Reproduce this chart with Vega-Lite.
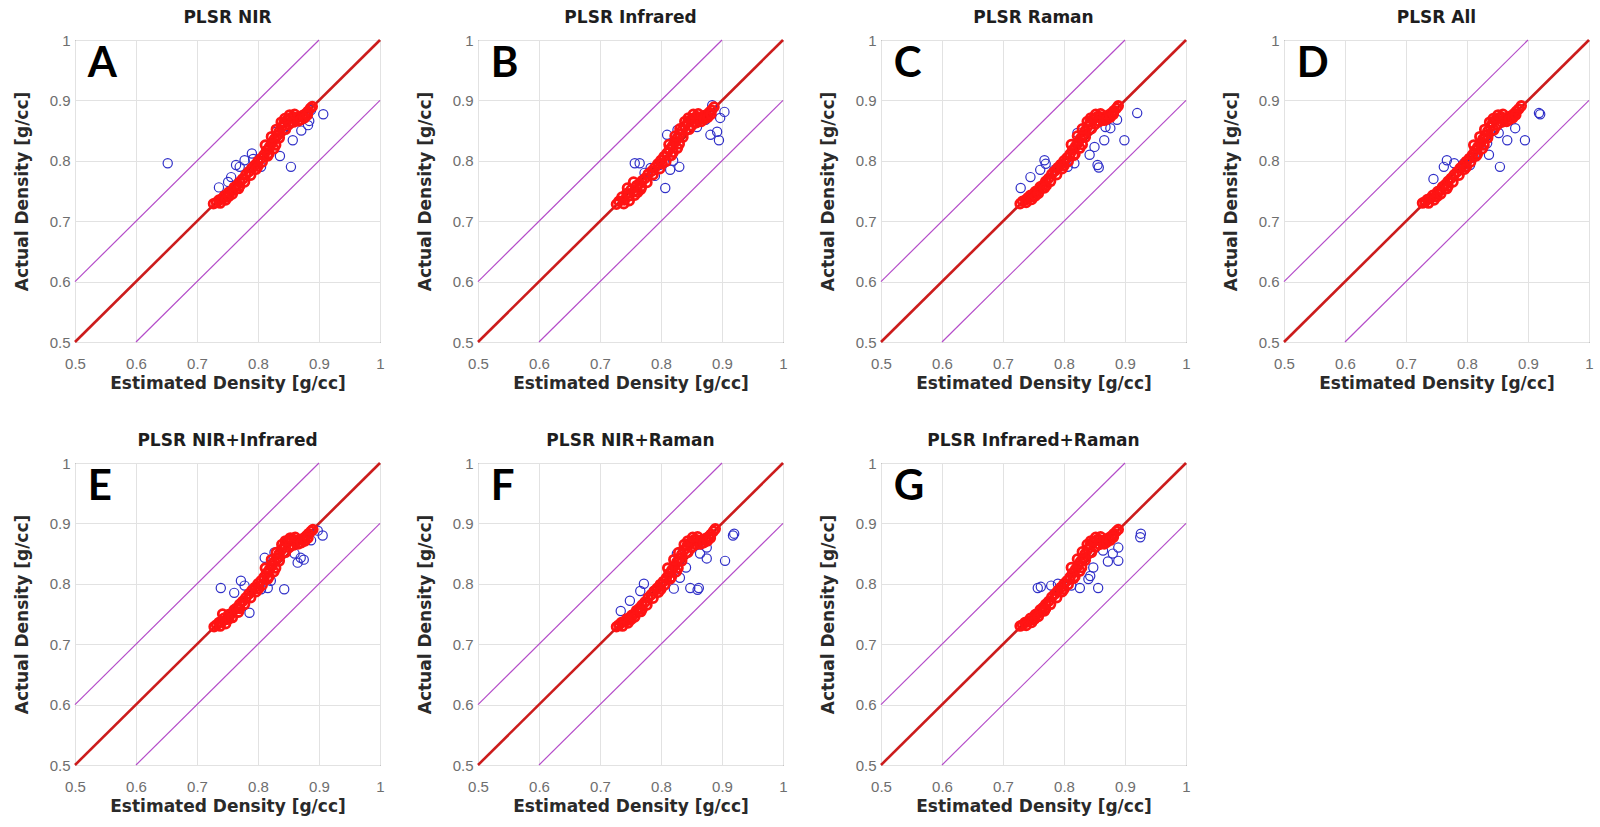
{
"$schema":"https://vega.github.io/schema/vega-lite/v6.json",
"background":"white",
"padding":{"left":12,"top":8,"right":5,"bottom":5},
"data":{"values":[
{"p":"A","s":"t"},{"p":"B","s":"t"},{"p":"C","s":"t"},{"p":"D","s":"t"},{"p":"E","s":"t"},{"p":"F","s":"t"},{"p":"G","s":"t"},
{"p":"A","s":"l","k":"d","x":0.5,"y":0.5},{"p":"A","s":"l","k":"d","x":1,"y":1},{"p":"A","s":"l","k":"u","x":0.5,"y":0.6},{"p":"A","s":"l","k":"u","x":0.9,"y":1},{"p":"A","s":"l","k":"w","x":0.6,"y":0.5},{"p":"A","s":"l","k":"w","x":1,"y":0.9},
{"p":"B","s":"l","k":"d","x":0.5,"y":0.5},{"p":"B","s":"l","k":"d","x":1,"y":1},{"p":"B","s":"l","k":"u","x":0.5,"y":0.6},{"p":"B","s":"l","k":"u","x":0.9,"y":1},{"p":"B","s":"l","k":"w","x":0.6,"y":0.5},{"p":"B","s":"l","k":"w","x":1,"y":0.9},
{"p":"C","s":"l","k":"d","x":0.5,"y":0.5},{"p":"C","s":"l","k":"d","x":1,"y":1},{"p":"C","s":"l","k":"u","x":0.5,"y":0.6},{"p":"C","s":"l","k":"u","x":0.9,"y":1},{"p":"C","s":"l","k":"w","x":0.6,"y":0.5},{"p":"C","s":"l","k":"w","x":1,"y":0.9},
{"p":"D","s":"l","k":"d","x":0.5,"y":0.5},{"p":"D","s":"l","k":"d","x":1,"y":1},{"p":"D","s":"l","k":"u","x":0.5,"y":0.6},{"p":"D","s":"l","k":"u","x":0.9,"y":1},{"p":"D","s":"l","k":"w","x":0.6,"y":0.5},{"p":"D","s":"l","k":"w","x":1,"y":0.9},
{"p":"E","s":"l","k":"d","x":0.5,"y":0.5},{"p":"E","s":"l","k":"d","x":1,"y":1},{"p":"E","s":"l","k":"u","x":0.5,"y":0.6},{"p":"E","s":"l","k":"u","x":0.9,"y":1},{"p":"E","s":"l","k":"w","x":0.6,"y":0.5},{"p":"E","s":"l","k":"w","x":1,"y":0.9},
{"p":"F","s":"l","k":"d","x":0.5,"y":0.5},{"p":"F","s":"l","k":"d","x":1,"y":1},{"p":"F","s":"l","k":"u","x":0.5,"y":0.6},{"p":"F","s":"l","k":"u","x":0.9,"y":1},{"p":"F","s":"l","k":"w","x":0.6,"y":0.5},{"p":"F","s":"l","k":"w","x":1,"y":0.9},
{"p":"G","s":"l","k":"d","x":0.5,"y":0.5},{"p":"G","s":"l","k":"d","x":1,"y":1},{"p":"G","s":"l","k":"u","x":0.5,"y":0.6},{"p":"G","s":"l","k":"u","x":0.9,"y":1},{"p":"G","s":"l","k":"w","x":0.6,"y":0.5},{"p":"G","s":"l","k":"w","x":1,"y":0.9},

{"p":"A","s":"b","x":0.652,"y":0.796},{"p":"A","s":"b","x":0.854,"y":0.790},{"p":"A","s":"b","x":0.907,"y":0.877},{"p":"A","s":"b","x":0.836,"y":0.808},{"p":"A","s":"b","x":0.857,"y":0.834},{"p":"A","s":"b","x":0.830,"y":0.848},{"p":"A","s":"b","x":0.805,"y":0.790},{"p":"A","s":"b","x":0.790,"y":0.812},{"p":"A","s":"b","x":0.764,"y":0.793},{"p":"A","s":"b","x":0.778,"y":0.801},{"p":"A","s":"b","x":0.792,"y":0.803},{"p":"A","s":"b","x":0.871,"y":0.850},{"p":"A","s":"b","x":0.884,"y":0.866},{"p":"A","s":"b","x":0.751,"y":0.765},{"p":"A","s":"b","x":0.736,"y":0.756},{"p":"A","s":"b","x":0.822,"y":0.829},{"p":"A","s":"b","x":0.844,"y":0.857},{"p":"A","s":"b","x":0.887,"y":0.884},{"p":"A","s":"b","x":0.756,"y":0.773},{"p":"A","s":"b","x":0.882,"y":0.859},{"p":"A","s":"b","x":0.770,"y":0.790},
{"p":"B","s":"b","x":0.807,"y":0.755},{"p":"B","s":"b","x":0.757,"y":0.796},{"p":"B","s":"b","x":0.765,"y":0.796},{"p":"B","s":"b","x":0.810,"y":0.843},{"p":"B","s":"b","x":0.830,"y":0.790},{"p":"B","s":"b","x":0.815,"y":0.785},{"p":"B","s":"b","x":0.881,"y":0.843},{"p":"B","s":"b","x":0.895,"y":0.834},{"p":"B","s":"b","x":0.892,"y":0.848},{"p":"B","s":"b","x":0.904,"y":0.881},{"p":"B","s":"b","x":0.897,"y":0.871},{"p":"B","s":"b","x":0.884,"y":0.892},{"p":"B","s":"b","x":0.783,"y":0.788},{"p":"B","s":"b","x":0.797,"y":0.793},{"p":"B","s":"b","x":0.827,"y":0.851},{"p":"B","s":"b","x":0.859,"y":0.856},{"p":"B","s":"b","x":0.873,"y":0.868},{"p":"B","s":"b","x":0.773,"y":0.780},{"p":"B","s":"b","x":0.820,"y":0.800},{"p":"B","s":"b","x":0.790,"y":0.775},
{"p":"C","s":"b","x":0.920,"y":0.879},{"p":"C","s":"b","x":0.855,"y":0.793},{"p":"C","s":"b","x":0.857,"y":0.789},{"p":"C","s":"b","x":0.842,"y":0.810},{"p":"C","s":"b","x":0.899,"y":0.834},{"p":"C","s":"b","x":0.866,"y":0.834},{"p":"C","s":"b","x":0.876,"y":0.854},{"p":"C","s":"b","x":0.822,"y":0.846},{"p":"C","s":"b","x":0.817,"y":0.796},{"p":"C","s":"b","x":0.806,"y":0.790},{"p":"C","s":"b","x":0.768,"y":0.801},{"p":"C","s":"b","x":0.761,"y":0.785},{"p":"C","s":"b","x":0.745,"y":0.773},{"p":"C","s":"b","x":0.729,"y":0.755},{"p":"C","s":"b","x":0.784,"y":0.785},{"p":"C","s":"b","x":0.868,"y":0.856},{"p":"C","s":"b","x":0.887,"y":0.868},{"p":"C","s":"b","x":0.850,"y":0.823},{"p":"C","s":"b","x":0.770,"y":0.795},
{"p":"D","s":"b","x":0.918,"y":0.879},{"p":"D","s":"b","x":0.920,"y":0.877},{"p":"D","s":"b","x":0.895,"y":0.834},{"p":"D","s":"b","x":0.854,"y":0.790},{"p":"D","s":"b","x":0.836,"y":0.810},{"p":"D","s":"b","x":0.866,"y":0.834},{"p":"D","s":"b","x":0.879,"y":0.854},{"p":"D","s":"b","x":0.805,"y":0.793},{"p":"D","s":"b","x":0.795,"y":0.796},{"p":"D","s":"b","x":0.762,"y":0.790},{"p":"D","s":"b","x":0.767,"y":0.801},{"p":"D","s":"b","x":0.779,"y":0.796},{"p":"D","s":"b","x":0.852,"y":0.846},{"p":"D","s":"b","x":0.870,"y":0.868},{"p":"D","s":"b","x":0.811,"y":0.806},{"p":"D","s":"b","x":0.833,"y":0.829},{"p":"D","s":"b","x":0.745,"y":0.770},
{"p":"E","s":"b","x":0.739,"y":0.793},{"p":"E","s":"b","x":0.786,"y":0.752},{"p":"E","s":"b","x":0.843,"y":0.791},{"p":"E","s":"b","x":0.811,"y":0.843},{"p":"E","s":"b","x":0.906,"y":0.880},{"p":"E","s":"b","x":0.865,"y":0.835},{"p":"E","s":"b","x":0.870,"y":0.843},{"p":"E","s":"b","x":0.816,"y":0.793},{"p":"E","s":"b","x":0.805,"y":0.791},{"p":"E","s":"b","x":0.778,"y":0.797},{"p":"E","s":"b","x":0.761,"y":0.785},{"p":"E","s":"b","x":0.772,"y":0.805},{"p":"E","s":"b","x":0.821,"y":0.805},{"p":"E","s":"b","x":0.827,"y":0.852},{"p":"E","s":"b","x":0.849,"y":0.872},{"p":"E","s":"b","x":0.887,"y":0.872},{"p":"E","s":"b","x":0.898,"y":0.888},{"p":"E","s":"b","x":0.860,"y":0.850},{"p":"E","s":"b","x":0.875,"y":0.840},
{"p":"F","s":"b","x":0.920,"y":0.883},{"p":"F","s":"b","x":0.905,"y":0.838},{"p":"F","s":"b","x":0.862,"y":0.793},{"p":"F","s":"b","x":0.848,"y":0.793},{"p":"F","s":"b","x":0.831,"y":0.810},{"p":"F","s":"b","x":0.821,"y":0.792},{"p":"F","s":"b","x":0.875,"y":0.842},{"p":"F","s":"b","x":0.864,"y":0.850},{"p":"F","s":"b","x":0.826,"y":0.850},{"p":"F","s":"b","x":0.772,"y":0.800},{"p":"F","s":"b","x":0.766,"y":0.788},{"p":"F","s":"b","x":0.749,"y":0.772},{"p":"F","s":"b","x":0.734,"y":0.755},{"p":"F","s":"b","x":0.788,"y":0.788},{"p":"F","s":"b","x":0.875,"y":0.860},{"p":"F","s":"b","x":0.841,"y":0.827},{"p":"F","s":"b","x":0.918,"y":0.880},{"p":"F","s":"b","x":0.860,"y":0.790},
{"p":"G","s":"b","x":0.926,"y":0.883},{"p":"G","s":"b","x":0.925,"y":0.877},{"p":"G","s":"b","x":0.889,"y":0.838},{"p":"G","s":"b","x":0.872,"y":0.837},{"p":"G","s":"b","x":0.880,"y":0.850},{"p":"G","s":"b","x":0.856,"y":0.793},{"p":"G","s":"b","x":0.843,"y":0.813},{"p":"G","s":"b","x":0.826,"y":0.793},{"p":"G","s":"b","x":0.812,"y":0.797},{"p":"G","s":"b","x":0.757,"y":0.793},{"p":"G","s":"b","x":0.762,"y":0.795},{"p":"G","s":"b","x":0.779,"y":0.797},{"p":"G","s":"b","x":0.790,"y":0.800},{"p":"G","s":"b","x":0.864,"y":0.855},{"p":"G","s":"b","x":0.848,"y":0.827},{"p":"G","s":"b","x":0.889,"y":0.860},{"p":"G","s":"b","x":0.840,"y":0.808},

{"p":"A","s":"r","x":0.727,"y":0.729},{"p":"A","s":"r","x":0.732,"y":0.731},{"p":"A","s":"r","x":0.736,"y":0.735},{"p":"A","s":"r","x":0.741,"y":0.737},{"p":"A","s":"r","x":0.745,"y":0.742},{"p":"A","s":"r","x":0.749,"y":0.740},{"p":"A","s":"r","x":0.752,"y":0.748},{"p":"A","s":"r","x":0.757,"y":0.750},{"p":"A","s":"r","x":0.761,"y":0.756},{"p":"A","s":"r","x":0.765,"y":0.759},{"p":"A","s":"r","x":0.770,"y":0.765},{"p":"A","s":"r","x":0.775,"y":0.770},{"p":"A","s":"r","x":0.780,"y":0.777},{"p":"A","s":"r","x":0.785,"y":0.782},{"p":"A","s":"r","x":0.790,"y":0.788},{"p":"A","s":"r","x":0.795,"y":0.793},{"p":"A","s":"r","x":0.800,"y":0.799},{"p":"A","s":"r","x":0.805,"y":0.804},{"p":"A","s":"r","x":0.810,"y":0.810},{"p":"A","s":"r","x":0.814,"y":0.817},{"p":"A","s":"r","x":0.819,"y":0.823},{"p":"A","s":"r","x":0.823,"y":0.829},{"p":"A","s":"r","x":0.827,"y":0.836},{"p":"A","s":"r","x":0.831,"y":0.842},{"p":"A","s":"r","x":0.835,"y":0.849},{"p":"A","s":"r","x":0.839,"y":0.856},{"p":"A","s":"r","x":0.843,"y":0.863},{"p":"A","s":"r","x":0.848,"y":0.868},{"p":"A","s":"r","x":0.853,"y":0.871},{"p":"A","s":"r","x":0.858,"y":0.872},{"p":"A","s":"r","x":0.863,"y":0.871},{"p":"A","s":"r","x":0.868,"y":0.873},{"p":"A","s":"r","x":0.873,"y":0.875},{"p":"A","s":"r","x":0.878,"y":0.878},{"p":"A","s":"r","x":0.882,"y":0.882},{"p":"A","s":"r","x":0.886,"y":0.887},{"p":"A","s":"r","x":0.889,"y":0.890},{"p":"A","s":"r","x":0.850,"y":0.860},{"p":"A","s":"r","x":0.858,"y":0.864},{"p":"A","s":"r","x":0.866,"y":0.866},{"p":"A","s":"r","x":0.818,"y":0.812},{"p":"A","s":"r","x":0.800,"y":0.791},{"p":"A","s":"r","x":0.770,"y":0.758},{"p":"A","s":"r","x":0.752,"y":0.741},{"p":"A","s":"r","x":0.829,"y":0.826},{"p":"A","s":"r","x":0.845,"y":0.852},
{"p":"A","s":"r","x":0.738,"y":0.730},{"p":"A","s":"r","x":0.747,"y":0.735},{"p":"A","s":"r","x":0.758,"y":0.745},{"p":"A","s":"r","x":0.768,"y":0.754},{"p":"A","s":"r","x":0.778,"y":0.765},{"p":"A","s":"r","x":0.788,"y":0.776},{"p":"A","s":"r","x":0.797,"y":0.786},{"p":"A","s":"r","x":0.807,"y":0.798},{"p":"A","s":"r","x":0.816,"y":0.808},{"p":"A","s":"r","x":0.826,"y":0.820},{"p":"A","s":"r","x":0.835,"y":0.838},{"p":"A","s":"r","x":0.838,"y":0.864},{"p":"A","s":"r","x":0.844,"y":0.870},{"p":"A","s":"r","x":0.852,"y":0.876},{"p":"A","s":"r","x":0.860,"y":0.877},{"p":"A","s":"r","x":0.870,"y":0.868},{"p":"A","s":"r","x":0.876,"y":0.871},{"p":"A","s":"r","x":0.881,"y":0.876},{"p":"A","s":"r","x":0.812,"y":0.826},{"p":"A","s":"r","x":0.822,"y":0.840},{"p":"A","s":"r","x":0.830,"y":0.852},

{"p":"B","s":"r","x":0.727,"y":0.728},{"p":"B","s":"r","x":0.731,"y":0.733},{"p":"B","s":"r","x":0.736,"y":0.740},{"p":"B","s":"r","x":0.740,"y":0.735},{"p":"B","s":"r","x":0.744,"y":0.746},{"p":"B","s":"r","x":0.748,"y":0.742},{"p":"B","s":"r","x":0.751,"y":0.752},{"p":"B","s":"r","x":0.756,"y":0.750},{"p":"B","s":"r","x":0.760,"y":0.759},{"p":"B","s":"r","x":0.765,"y":0.762},{"p":"B","s":"r","x":0.769,"y":0.767},{"p":"B","s":"r","x":0.774,"y":0.771},{"p":"B","s":"r","x":0.779,"y":0.778},{"p":"B","s":"r","x":0.785,"y":0.783},{"p":"B","s":"r","x":0.790,"y":0.789},{"p":"B","s":"r","x":0.795,"y":0.795},{"p":"B","s":"r","x":0.800,"y":0.801},{"p":"B","s":"r","x":0.805,"y":0.807},{"p":"B","s":"r","x":0.810,"y":0.813},{"p":"B","s":"r","x":0.814,"y":0.819},{"p":"B","s":"r","x":0.819,"y":0.825},{"p":"B","s":"r","x":0.823,"y":0.831},{"p":"B","s":"r","x":0.827,"y":0.838},{"p":"B","s":"r","x":0.831,"y":0.844},{"p":"B","s":"r","x":0.835,"y":0.851},{"p":"B","s":"r","x":0.839,"y":0.857},{"p":"B","s":"r","x":0.844,"y":0.864},{"p":"B","s":"r","x":0.849,"y":0.868},{"p":"B","s":"r","x":0.854,"y":0.871},{"p":"B","s":"r","x":0.859,"y":0.873},{"p":"B","s":"r","x":0.864,"y":0.871},{"p":"B","s":"r","x":0.869,"y":0.874},{"p":"B","s":"r","x":0.874,"y":0.876},{"p":"B","s":"r","x":0.879,"y":0.880},{"p":"B","s":"r","x":0.883,"y":0.884},{"p":"B","s":"r","x":0.887,"y":0.889},{"p":"B","s":"r","x":0.850,"y":0.858},{"p":"B","s":"r","x":0.858,"y":0.863},{"p":"B","s":"r","x":0.866,"y":0.865},{"p":"B","s":"r","x":0.820,"y":0.814},{"p":"B","s":"r","x":0.802,"y":0.795},{"p":"B","s":"r","x":0.768,"y":0.757},{"p":"B","s":"r","x":0.745,"y":0.755},{"p":"B","s":"r","x":0.755,"y":0.765},{"p":"B","s":"r","x":0.762,"y":0.748},{"p":"B","s":"r","x":0.830,"y":0.828},{"p":"B","s":"r","x":0.846,"y":0.852},
{"p":"B","s":"r","x":0.739,"y":0.729},{"p":"B","s":"r","x":0.748,"y":0.734},{"p":"B","s":"r","x":0.757,"y":0.743},{"p":"B","s":"r","x":0.767,"y":0.753},{"p":"B","s":"r","x":0.777,"y":0.764},{"p":"B","s":"r","x":0.787,"y":0.777},{"p":"B","s":"r","x":0.798,"y":0.787},{"p":"B","s":"r","x":0.808,"y":0.799},{"p":"B","s":"r","x":0.817,"y":0.809},{"p":"B","s":"r","x":0.827,"y":0.821},{"p":"B","s":"r","x":0.836,"y":0.839},{"p":"B","s":"r","x":0.839,"y":0.865},{"p":"B","s":"r","x":0.845,"y":0.871},{"p":"B","s":"r","x":0.853,"y":0.877},{"p":"B","s":"r","x":0.861,"y":0.878},{"p":"B","s":"r","x":0.871,"y":0.869},{"p":"B","s":"r","x":0.877,"y":0.872},{"p":"B","s":"r","x":0.882,"y":0.877},{"p":"B","s":"r","x":0.813,"y":0.827},{"p":"B","s":"r","x":0.823,"y":0.841},{"p":"B","s":"r","x":0.831,"y":0.853},

{"p":"C","s":"r","x":0.728,"y":0.729},{"p":"C","s":"r","x":0.732,"y":0.733},{"p":"C","s":"r","x":0.737,"y":0.735},{"p":"C","s":"r","x":0.741,"y":0.739},{"p":"C","s":"r","x":0.745,"y":0.743},{"p":"C","s":"r","x":0.749,"y":0.741},{"p":"C","s":"r","x":0.753,"y":0.749},{"p":"C","s":"r","x":0.757,"y":0.751},{"p":"C","s":"r","x":0.761,"y":0.757},{"p":"C","s":"r","x":0.766,"y":0.760},{"p":"C","s":"r","x":0.770,"y":0.766},{"p":"C","s":"r","x":0.775,"y":0.771},{"p":"C","s":"r","x":0.780,"y":0.778},{"p":"C","s":"r","x":0.785,"y":0.783},{"p":"C","s":"r","x":0.790,"y":0.789},{"p":"C","s":"r","x":0.795,"y":0.794},{"p":"C","s":"r","x":0.800,"y":0.800},{"p":"C","s":"r","x":0.805,"y":0.805},{"p":"C","s":"r","x":0.810,"y":0.811},{"p":"C","s":"r","x":0.814,"y":0.818},{"p":"C","s":"r","x":0.819,"y":0.824},{"p":"C","s":"r","x":0.823,"y":0.830},{"p":"C","s":"r","x":0.827,"y":0.837},{"p":"C","s":"r","x":0.831,"y":0.843},{"p":"C","s":"r","x":0.835,"y":0.850},{"p":"C","s":"r","x":0.839,"y":0.857},{"p":"C","s":"r","x":0.843,"y":0.864},{"p":"C","s":"r","x":0.848,"y":0.869},{"p":"C","s":"r","x":0.853,"y":0.872},{"p":"C","s":"r","x":0.858,"y":0.873},{"p":"C","s":"r","x":0.863,"y":0.872},{"p":"C","s":"r","x":0.868,"y":0.873},{"p":"C","s":"r","x":0.873,"y":0.876},{"p":"C","s":"r","x":0.878,"y":0.879},{"p":"C","s":"r","x":0.882,"y":0.883},{"p":"C","s":"r","x":0.886,"y":0.887},{"p":"C","s":"r","x":0.889,"y":0.891},{"p":"C","s":"r","x":0.851,"y":0.861},{"p":"C","s":"r","x":0.858,"y":0.865},{"p":"C","s":"r","x":0.866,"y":0.867},{"p":"C","s":"r","x":0.818,"y":0.811},{"p":"C","s":"r","x":0.800,"y":0.792},{"p":"C","s":"r","x":0.771,"y":0.759},{"p":"C","s":"r","x":0.753,"y":0.742},{"p":"C","s":"r","x":0.830,"y":0.827},{"p":"C","s":"r","x":0.845,"y":0.853},
{"p":"C","s":"r","x":0.738,"y":0.731},{"p":"C","s":"r","x":0.747,"y":0.736},{"p":"C","s":"r","x":0.758,"y":0.746},{"p":"C","s":"r","x":0.768,"y":0.755},{"p":"C","s":"r","x":0.778,"y":0.766},{"p":"C","s":"r","x":0.788,"y":0.777},{"p":"C","s":"r","x":0.797,"y":0.787},{"p":"C","s":"r","x":0.807,"y":0.799},{"p":"C","s":"r","x":0.816,"y":0.809},{"p":"C","s":"r","x":0.826,"y":0.821},{"p":"C","s":"r","x":0.835,"y":0.839},{"p":"C","s":"r","x":0.838,"y":0.865},{"p":"C","s":"r","x":0.844,"y":0.871},{"p":"C","s":"r","x":0.852,"y":0.877},{"p":"C","s":"r","x":0.860,"y":0.878},{"p":"C","s":"r","x":0.870,"y":0.869},{"p":"C","s":"r","x":0.876,"y":0.872},{"p":"C","s":"r","x":0.881,"y":0.877},{"p":"C","s":"r","x":0.812,"y":0.827},{"p":"C","s":"r","x":0.822,"y":0.841},{"p":"C","s":"r","x":0.830,"y":0.853},

{"p":"D","s":"r","x":0.727,"y":0.730},{"p":"D","s":"r","x":0.731,"y":0.732},{"p":"D","s":"r","x":0.735,"y":0.736},{"p":"D","s":"r","x":0.740,"y":0.738},{"p":"D","s":"r","x":0.744,"y":0.743},{"p":"D","s":"r","x":0.748,"y":0.741},{"p":"D","s":"r","x":0.752,"y":0.749},{"p":"D","s":"r","x":0.756,"y":0.751},{"p":"D","s":"r","x":0.760,"y":0.757},{"p":"D","s":"r","x":0.765,"y":0.761},{"p":"D","s":"r","x":0.769,"y":0.766},{"p":"D","s":"r","x":0.774,"y":0.771},{"p":"D","s":"r","x":0.779,"y":0.777},{"p":"D","s":"r","x":0.784,"y":0.782},{"p":"D","s":"r","x":0.789,"y":0.788},{"p":"D","s":"r","x":0.794,"y":0.793},{"p":"D","s":"r","x":0.799,"y":0.799},{"p":"D","s":"r","x":0.804,"y":0.804},{"p":"D","s":"r","x":0.809,"y":0.810},{"p":"D","s":"r","x":0.813,"y":0.817},{"p":"D","s":"r","x":0.818,"y":0.823},{"p":"D","s":"r","x":0.822,"y":0.829},{"p":"D","s":"r","x":0.826,"y":0.836},{"p":"D","s":"r","x":0.830,"y":0.842},{"p":"D","s":"r","x":0.834,"y":0.849},{"p":"D","s":"r","x":0.838,"y":0.856},{"p":"D","s":"r","x":0.842,"y":0.863},{"p":"D","s":"r","x":0.847,"y":0.868},{"p":"D","s":"r","x":0.852,"y":0.871},{"p":"D","s":"r","x":0.857,"y":0.872},{"p":"D","s":"r","x":0.862,"y":0.870},{"p":"D","s":"r","x":0.867,"y":0.872},{"p":"D","s":"r","x":0.872,"y":0.874},{"p":"D","s":"r","x":0.877,"y":0.878},{"p":"D","s":"r","x":0.881,"y":0.882},{"p":"D","s":"r","x":0.885,"y":0.886},{"p":"D","s":"r","x":0.889,"y":0.891},{"p":"D","s":"r","x":0.849,"y":0.859},{"p":"D","s":"r","x":0.857,"y":0.864},{"p":"D","s":"r","x":0.865,"y":0.865},{"p":"D","s":"r","x":0.817,"y":0.811},{"p":"D","s":"r","x":0.799,"y":0.790},{"p":"D","s":"r","x":0.769,"y":0.758},{"p":"D","s":"r","x":0.751,"y":0.741},{"p":"D","s":"r","x":0.828,"y":0.826},{"p":"D","s":"r","x":0.844,"y":0.851},
{"p":"D","s":"r","x":0.737,"y":0.730},{"p":"D","s":"r","x":0.746,"y":0.735},{"p":"D","s":"r","x":0.757,"y":0.745},{"p":"D","s":"r","x":0.767,"y":0.754},{"p":"D","s":"r","x":0.777,"y":0.765},{"p":"D","s":"r","x":0.787,"y":0.776},{"p":"D","s":"r","x":0.796,"y":0.786},{"p":"D","s":"r","x":0.806,"y":0.798},{"p":"D","s":"r","x":0.815,"y":0.808},{"p":"D","s":"r","x":0.825,"y":0.820},{"p":"D","s":"r","x":0.834,"y":0.838},{"p":"D","s":"r","x":0.837,"y":0.864},{"p":"D","s":"r","x":0.843,"y":0.870},{"p":"D","s":"r","x":0.851,"y":0.876},{"p":"D","s":"r","x":0.859,"y":0.877},{"p":"D","s":"r","x":0.869,"y":0.868},{"p":"D","s":"r","x":0.875,"y":0.871},{"p":"D","s":"r","x":0.880,"y":0.876},{"p":"D","s":"r","x":0.811,"y":0.826},{"p":"D","s":"r","x":0.821,"y":0.840},{"p":"D","s":"r","x":0.829,"y":0.852},

{"p":"E","s":"r","x":0.728,"y":0.729},{"p":"E","s":"r","x":0.732,"y":0.732},{"p":"E","s":"r","x":0.736,"y":0.736},{"p":"E","s":"r","x":0.740,"y":0.737},{"p":"E","s":"r","x":0.744,"y":0.743},{"p":"E","s":"r","x":0.748,"y":0.741},{"p":"E","s":"r","x":0.752,"y":0.749},{"p":"E","s":"r","x":0.757,"y":0.751},{"p":"E","s":"r","x":0.761,"y":0.757},{"p":"E","s":"r","x":0.765,"y":0.760},{"p":"E","s":"r","x":0.770,"y":0.766},{"p":"E","s":"r","x":0.775,"y":0.771},{"p":"E","s":"r","x":0.780,"y":0.777},{"p":"E","s":"r","x":0.785,"y":0.783},{"p":"E","s":"r","x":0.790,"y":0.789},{"p":"E","s":"r","x":0.795,"y":0.794},{"p":"E","s":"r","x":0.800,"y":0.800},{"p":"E","s":"r","x":0.805,"y":0.805},{"p":"E","s":"r","x":0.810,"y":0.811},{"p":"E","s":"r","x":0.814,"y":0.818},{"p":"E","s":"r","x":0.819,"y":0.824},{"p":"E","s":"r","x":0.823,"y":0.830},{"p":"E","s":"r","x":0.827,"y":0.837},{"p":"E","s":"r","x":0.831,"y":0.843},{"p":"E","s":"r","x":0.835,"y":0.850},{"p":"E","s":"r","x":0.839,"y":0.857},{"p":"E","s":"r","x":0.844,"y":0.864},{"p":"E","s":"r","x":0.849,"y":0.869},{"p":"E","s":"r","x":0.854,"y":0.872},{"p":"E","s":"r","x":0.859,"y":0.873},{"p":"E","s":"r","x":0.864,"y":0.871},{"p":"E","s":"r","x":0.869,"y":0.873},{"p":"E","s":"r","x":0.874,"y":0.875},{"p":"E","s":"r","x":0.879,"y":0.879},{"p":"E","s":"r","x":0.883,"y":0.883},{"p":"E","s":"r","x":0.887,"y":0.887},{"p":"E","s":"r","x":0.890,"y":0.890},{"p":"E","s":"r","x":0.851,"y":0.860},{"p":"E","s":"r","x":0.858,"y":0.864},{"p":"E","s":"r","x":0.866,"y":0.866},{"p":"E","s":"r","x":0.818,"y":0.812},{"p":"E","s":"r","x":0.801,"y":0.792},{"p":"E","s":"r","x":0.770,"y":0.759},{"p":"E","s":"r","x":0.752,"y":0.742},{"p":"E","s":"r","x":0.829,"y":0.826},{"p":"E","s":"r","x":0.845,"y":0.852},{"p":"E","s":"r","x":0.742,"y":0.750},
{"p":"E","s":"r","x":0.738,"y":0.730},{"p":"E","s":"r","x":0.747,"y":0.734},{"p":"E","s":"r","x":0.758,"y":0.744},{"p":"E","s":"r","x":0.768,"y":0.753},{"p":"E","s":"r","x":0.778,"y":0.766},{"p":"E","s":"r","x":0.788,"y":0.777},{"p":"E","s":"r","x":0.797,"y":0.787},{"p":"E","s":"r","x":0.807,"y":0.798},{"p":"E","s":"r","x":0.816,"y":0.808},{"p":"E","s":"r","x":0.826,"y":0.820},{"p":"E","s":"r","x":0.835,"y":0.838},{"p":"E","s":"r","x":0.839,"y":0.865},{"p":"E","s":"r","x":0.845,"y":0.871},{"p":"E","s":"r","x":0.853,"y":0.876},{"p":"E","s":"r","x":0.861,"y":0.877},{"p":"E","s":"r","x":0.871,"y":0.868},{"p":"E","s":"r","x":0.877,"y":0.871},{"p":"E","s":"r","x":0.882,"y":0.876},{"p":"E","s":"r","x":0.812,"y":0.826},{"p":"E","s":"r","x":0.822,"y":0.840},{"p":"E","s":"r","x":0.830,"y":0.852},

{"p":"F","s":"r","x":0.727,"y":0.729},{"p":"F","s":"r","x":0.731,"y":0.732},{"p":"F","s":"r","x":0.735,"y":0.736},{"p":"F","s":"r","x":0.740,"y":0.737},{"p":"F","s":"r","x":0.744,"y":0.742},{"p":"F","s":"r","x":0.748,"y":0.740},{"p":"F","s":"r","x":0.752,"y":0.748},{"p":"F","s":"r","x":0.756,"y":0.750},{"p":"F","s":"r","x":0.760,"y":0.756},{"p":"F","s":"r","x":0.765,"y":0.760},{"p":"F","s":"r","x":0.769,"y":0.765},{"p":"F","s":"r","x":0.774,"y":0.770},{"p":"F","s":"r","x":0.779,"y":0.777},{"p":"F","s":"r","x":0.784,"y":0.782},{"p":"F","s":"r","x":0.789,"y":0.788},{"p":"F","s":"r","x":0.794,"y":0.793},{"p":"F","s":"r","x":0.799,"y":0.799},{"p":"F","s":"r","x":0.804,"y":0.804},{"p":"F","s":"r","x":0.809,"y":0.810},{"p":"F","s":"r","x":0.813,"y":0.817},{"p":"F","s":"r","x":0.818,"y":0.823},{"p":"F","s":"r","x":0.822,"y":0.829},{"p":"F","s":"r","x":0.826,"y":0.836},{"p":"F","s":"r","x":0.830,"y":0.842},{"p":"F","s":"r","x":0.834,"y":0.849},{"p":"F","s":"r","x":0.838,"y":0.856},{"p":"F","s":"r","x":0.843,"y":0.863},{"p":"F","s":"r","x":0.848,"y":0.868},{"p":"F","s":"r","x":0.853,"y":0.872},{"p":"F","s":"r","x":0.858,"y":0.873},{"p":"F","s":"r","x":0.863,"y":0.871},{"p":"F","s":"r","x":0.868,"y":0.873},{"p":"F","s":"r","x":0.873,"y":0.875},{"p":"F","s":"r","x":0.878,"y":0.878},{"p":"F","s":"r","x":0.882,"y":0.882},{"p":"F","s":"r","x":0.886,"y":0.887},{"p":"F","s":"r","x":0.889,"y":0.891},{"p":"F","s":"r","x":0.850,"y":0.860},{"p":"F","s":"r","x":0.857,"y":0.865},{"p":"F","s":"r","x":0.865,"y":0.866},{"p":"F","s":"r","x":0.817,"y":0.811},{"p":"F","s":"r","x":0.800,"y":0.791},{"p":"F","s":"r","x":0.769,"y":0.758},{"p":"F","s":"r","x":0.751,"y":0.741},{"p":"F","s":"r","x":0.828,"y":0.826},{"p":"F","s":"r","x":0.844,"y":0.852},
{"p":"F","s":"r","x":0.737,"y":0.730},{"p":"F","s":"r","x":0.746,"y":0.735},{"p":"F","s":"r","x":0.757,"y":0.745},{"p":"F","s":"r","x":0.767,"y":0.754},{"p":"F","s":"r","x":0.777,"y":0.765},{"p":"F","s":"r","x":0.787,"y":0.776},{"p":"F","s":"r","x":0.796,"y":0.786},{"p":"F","s":"r","x":0.806,"y":0.798},{"p":"F","s":"r","x":0.815,"y":0.808},{"p":"F","s":"r","x":0.825,"y":0.820},{"p":"F","s":"r","x":0.834,"y":0.838},{"p":"F","s":"r","x":0.838,"y":0.865},{"p":"F","s":"r","x":0.844,"y":0.871},{"p":"F","s":"r","x":0.852,"y":0.877},{"p":"F","s":"r","x":0.860,"y":0.878},{"p":"F","s":"r","x":0.870,"y":0.868},{"p":"F","s":"r","x":0.876,"y":0.871},{"p":"F","s":"r","x":0.881,"y":0.876},{"p":"F","s":"r","x":0.811,"y":0.826},{"p":"F","s":"r","x":0.821,"y":0.840},{"p":"F","s":"r","x":0.829,"y":0.852},

{"p":"G","s":"r","x":0.728,"y":0.730},{"p":"G","s":"r","x":0.732,"y":0.732},{"p":"G","s":"r","x":0.736,"y":0.736},{"p":"G","s":"r","x":0.741,"y":0.738},{"p":"G","s":"r","x":0.745,"y":0.743},{"p":"G","s":"r","x":0.749,"y":0.741},{"p":"G","s":"r","x":0.753,"y":0.749},{"p":"G","s":"r","x":0.757,"y":0.751},{"p":"G","s":"r","x":0.761,"y":0.757},{"p":"G","s":"r","x":0.766,"y":0.761},{"p":"G","s":"r","x":0.770,"y":0.766},{"p":"G","s":"r","x":0.775,"y":0.771},{"p":"G","s":"r","x":0.780,"y":0.778},{"p":"G","s":"r","x":0.785,"y":0.783},{"p":"G","s":"r","x":0.790,"y":0.789},{"p":"G","s":"r","x":0.795,"y":0.794},{"p":"G","s":"r","x":0.800,"y":0.800},{"p":"G","s":"r","x":0.805,"y":0.805},{"p":"G","s":"r","x":0.810,"y":0.811},{"p":"G","s":"r","x":0.814,"y":0.818},{"p":"G","s":"r","x":0.819,"y":0.824},{"p":"G","s":"r","x":0.823,"y":0.830},{"p":"G","s":"r","x":0.827,"y":0.837},{"p":"G","s":"r","x":0.831,"y":0.843},{"p":"G","s":"r","x":0.835,"y":0.850},{"p":"G","s":"r","x":0.839,"y":0.857},{"p":"G","s":"r","x":0.843,"y":0.864},{"p":"G","s":"r","x":0.848,"y":0.869},{"p":"G","s":"r","x":0.853,"y":0.872},{"p":"G","s":"r","x":0.858,"y":0.873},{"p":"G","s":"r","x":0.863,"y":0.871},{"p":"G","s":"r","x":0.868,"y":0.873},{"p":"G","s":"r","x":0.873,"y":0.876},{"p":"G","s":"r","x":0.878,"y":0.879},{"p":"G","s":"r","x":0.882,"y":0.883},{"p":"G","s":"r","x":0.886,"y":0.887},{"p":"G","s":"r","x":0.889,"y":0.890},{"p":"G","s":"r","x":0.851,"y":0.861},{"p":"G","s":"r","x":0.858,"y":0.865},{"p":"G","s":"r","x":0.866,"y":0.866},{"p":"G","s":"r","x":0.818,"y":0.812},{"p":"G","s":"r","x":0.800,"y":0.791},{"p":"G","s":"r","x":0.770,"y":0.759},{"p":"G","s":"r","x":0.752,"y":0.742},{"p":"G","s":"r","x":0.829,"y":0.827},{"p":"G","s":"r","x":0.845,"y":0.852},
{"p":"G","s":"r","x":0.738,"y":0.731},{"p":"G","s":"r","x":0.747,"y":0.736},{"p":"G","s":"r","x":0.758,"y":0.746},{"p":"G","s":"r","x":0.768,"y":0.755},{"p":"G","s":"r","x":0.778,"y":0.766},{"p":"G","s":"r","x":0.788,"y":0.777},{"p":"G","s":"r","x":0.797,"y":0.787},{"p":"G","s":"r","x":0.807,"y":0.799},{"p":"G","s":"r","x":0.816,"y":0.809},{"p":"G","s":"r","x":0.826,"y":0.821},{"p":"G","s":"r","x":0.835,"y":0.839},{"p":"G","s":"r","x":0.838,"y":0.865},{"p":"G","s":"r","x":0.844,"y":0.871},{"p":"G","s":"r","x":0.852,"y":0.877},{"p":"G","s":"r","x":0.860,"y":0.878},{"p":"G","s":"r","x":0.870,"y":0.869},{"p":"G","s":"r","x":0.876,"y":0.872},{"p":"G","s":"r","x":0.881,"y":0.877},{"p":"G","s":"r","x":0.812,"y":0.827},{"p":"G","s":"r","x":0.822,"y":0.841},{"p":"G","s":"r","x":0.830,"y":0.853}
]},
"columns":4,
"bounds":"flush",
"spacing":{"row":121,"column":98},
"facet":{"field":"p","type":"nominal","title":null,
  "header":{"title":null,"labelExpr":"datum.value=='A'?'PLSR NIR':datum.value=='B'?'PLSR Infrared':datum.value=='C'?'PLSR Raman':datum.value=='D'?'PLSR All':datum.value=='E'?'PLSR NIR+Infrared':datum.value=='F'?'PLSR NIR+Raman':'PLSR Infrared+Raman'","labelFont":"DejaVu Sans","labelFontWeight":"bold","labelFontSize":17,"labelColor":"#1e1e1e","labelPadding":6}},
"resolve":{"axis":{"x":"independent","y":"independent"}},
"spec":{
  "width":305,"height":302,
  "layer":[
    {"transform":[{"filter":"datum.s=='l' && datum.k!='d'"}],"mark":{"type":"line","color":"#b44dc9","strokeWidth":1.2},
     "encoding":{
      "x":{"field":"x","type":"quantitative","scale":{"domain":[0.5,1],"nice":false,"zero":false},"title":"Estimated Density [g/cc]","axis":{"values":[0.5,0.6,0.7,0.8,0.9,1],"format":"~g"}},
      "y":{"field":"y","type":"quantitative","scale":{"domain":[0.5,1],"nice":false,"zero":false},"title":"Actual Density [g/cc]","axis":{"values":[0.5,0.6,0.7,0.8,0.9,1],"format":"~g"}},
      "detail":{"field":"k"}}},
    {"transform":[{"filter":"datum.s=='l' && datum.k=='d'"}],"mark":{"type":"line","color":"#cc1c1c","strokeWidth":2.6},
     "encoding":{"x":{"field":"x","type":"quantitative"},"y":{"field":"y","type":"quantitative"},"detail":{"field":"k"}}},
    {"transform":[{"filter":"datum.s=='b'"}],"mark":{"type":"point","shape":"circle","filled":false,"color":"#3030c8","strokeWidth":1.2,"size":85,"opacity":1},
     "encoding":{"x":{"field":"x","type":"quantitative"},"y":{"field":"y","type":"quantitative"}}},
    {"transform":[{"filter":"datum.s=='r'"}],"mark":{"type":"point","shape":"circle","filled":false,"color":"#ff1414","strokeWidth":2.8,"size":75,"opacity":1},
     "encoding":{"x":{"field":"x","type":"quantitative"},"y":{"field":"y","type":"quantitative"}}},
    {"transform":[{"filter":"datum.s=='t'"}],"mark":{"type":"text","font":"Lato","fontWeight":"bold","fontSize":42,"align":"left","baseline":"alphabetic","fill":"#000000","opacity":1},
     "encoding":{"x":{"datum":0.521},"y":{"datum":0.939},"text":{"field":"p","type":"nominal"}}}
  ]
},
"config":{
  "view":{"stroke":"#3c3c3c","strokeWidth":1},
  "axis":{"grid":true,"gridColor":"#e2e2e2","gridWidth":1,"domain":false,"ticks":false,"labelFont":"Liberation Sans","labelFontSize":15,"labelColor":"#6e6e6e","labelOverlap":false,"labelFlush":false,"labelBound":false,"titleFont":"DejaVu Sans","titleFontWeight":"bold","titleFontSize":17,"titleColor":"#2a2a2a"},
  "axisX":{"labelPadding":14,"titlePadding":4},
  "axisY":{"labelPadding":5,"titlePadding":18}
}
}
